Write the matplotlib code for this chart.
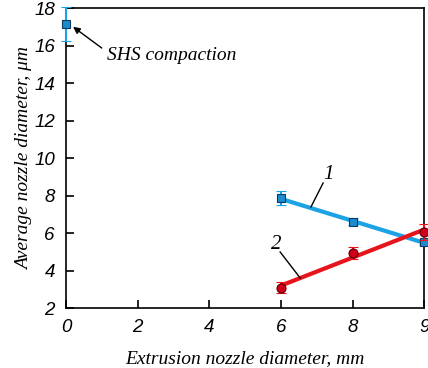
import numpy as np
import matplotlib
matplotlib.use("Agg")
import matplotlib.pyplot as plt

# x positions on the axis (last tick is labelled "9" but sits at the right edge)
tick_pos = [0, 2, 4, 6, 8, 10]
tick_labels = ["0", "2", "4", "6", "8", "9"]

shs_x = [0]
shs_y = [17.15]
shs_err = [0.9]

x1 = [6, 8, 10]
y1 = [7.85, 6.6, 5.5]
err1 = [0.37, 0.18, 0.12]

x2 = [6, 8, 10]
y2 = [3.08, 4.92, 6.07]
err2 = [0.3, 0.33, 0.42]

blue_line = "#1ba3e3"
blue_mark = "#1b8ccc"
red_line = "#e8141c"
red_mark = "#d0001a"

fig = plt.figure(figsize=(4.28, 3.68), dpi=100)
ax = fig.add_axes([0.154, 0.163, 0.837, 0.815])

tick_font = {"family": "Liberation Sans", "style": "italic", "size": 13.5}
lab_font = {"family": "Liberation Serif", "style": "italic", "size": 14}

# fitted lines
for xs, ys, col in [(x1, y1, blue_line), (x2, y2, red_line)]:
    k, b = np.polyfit(xs, ys, 1)
    xx = np.array([min(xs), max(xs)])
    ax.plot(xx, k * xx + b, color=col, lw=3, zorder=2, solid_capstyle="butt")

ax.errorbar(shs_x, shs_y, yerr=shs_err, fmt="s", ms=6, mfc=blue_mark, mec="#0a3a60",
            mew=0.8, ecolor=blue_line, elinewidth=1.5, capsize=3.5, zorder=3, clip_on=False)
ax.errorbar(x1, y1, yerr=err1, fmt="s", ms=6, mfc=blue_mark, mec="#0a3a60",
            mew=0.8, ecolor=blue_line, elinewidth=1.5, capsize=3.5, zorder=3, clip_on=False)
ax.errorbar(x2, y2, yerr=err2, fmt="o", ms=6.5, mfc=red_mark, mec="#5a0008",
            mew=0.8, ecolor=red_line, elinewidth=1.5, capsize=3.5, zorder=4, clip_on=False)

ax.set_xlim(0, 10)
ax.set_ylim(2, 18)
ax.set_xticks(tick_pos)
ax.set_xticklabels(tick_labels, fontdict=tick_font)
ax.set_yticks(range(2, 19, 2))
ax.set_yticklabels([str(v) for v in range(2, 19, 2)], fontdict=tick_font)
ax.tick_params(direction="in", length=6, width=1.2, pad=8, top=False, right=False)
for s in ax.spines.values():
    s.set_linewidth(1.2)

ax.set_xlabel("Extrusion nozzle diameter, mm", fontdict=lab_font, labelpad=10)
ax.set_ylabel("Average nozzle diameter, \u03bcm", fontdict=lab_font, labelpad=1)

# labels and leader lines
txt = dict(fontfamily="Liberation Serif", fontstyle="italic")
ax.text(1.15, 15.45, "SHS compaction", fontsize=14, ha="left", va="center", **txt)
ax.annotate("", xy=(0.2, 17.0), xytext=(1.0, 15.87),
            arrowprops=dict(arrowstyle="-|>", color="black", lw=1, mutation_scale=10,
                            shrinkA=0, shrinkB=0))
ax.text(7.32, 9.1, "1", fontsize=15, ha="center", va="center", **txt)
ax.plot([7.18, 6.84], [8.67, 7.39], color="black", lw=1)
ax.text(5.87, 5.4, "2", fontsize=15, ha="center", va="center", **txt)
ax.plot([5.98, 6.54], [4.99, 3.6], color="black", lw=1)

fig.savefig("out.png", dpi=100)
